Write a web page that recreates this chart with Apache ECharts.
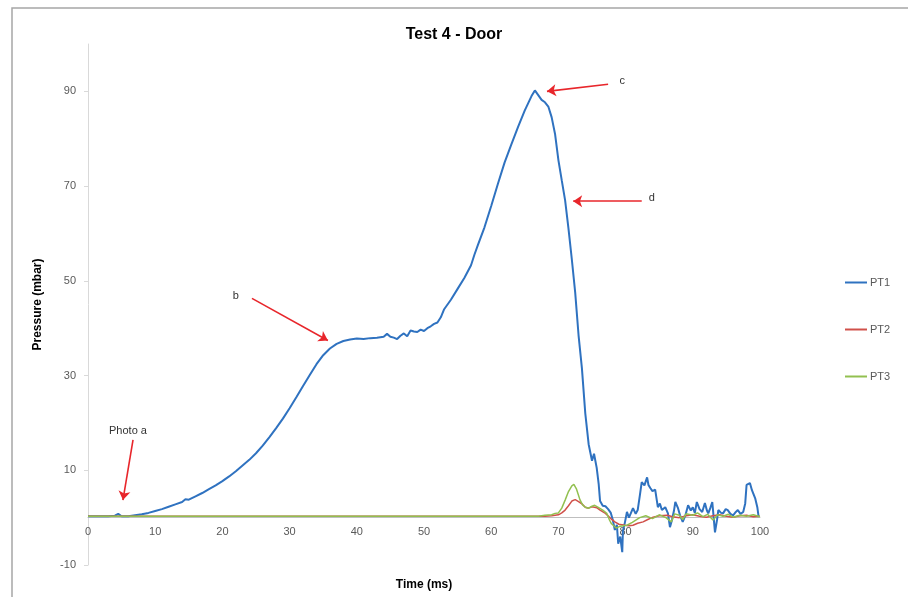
<!DOCTYPE html>
<html>
<head>
<meta charset="utf-8">
<script src="https://cdn.jsdelivr.net/npm/echarts@6/dist/echarts.min.js"></script>
<style>
html,body{margin:0;padding:0;background:#fff;}
#chart{width:908px;height:597px;}
</style>
</head>
<body>
<div id="chart"></div>
<script>
// ---- data (time in ms, pressure in mbar) ----
const seriesNames = ['PT1', 'PT2', 'PT3'];
const xTicks = [0, 10, 20, 30, 40, 50, 60, 70, 80, 90, 100];
const yTicks = [-10, 10, 30, 50, 70, 90];

const pt1 = [
  [0,0.3],[1,0.3],[2,0.3],[3,0.3],[4,0.4],[4.5,0.8],[5,0.3],[5.5,0.3],[6,0.3],[7,0.5],[8,0.7],[9,1.0],
  [10,1.4],[11,1.8],[12,2.3],[13,2.8],[14,3.3],[14.5,3.9],[15,3.8],[16,4.5],[17,5.2],[18,6.0],[19,6.8],
  [20,7.7],[21,8.7],[22,9.8],[23,11.0],[24,12.2],[25,13.6],[26,15.2],[27,17.0],[28,18.9],[29,20.9],
  [30,23.1],[31,25.4],[32,27.8],[33,30.1],[34,32.4],[35,34.3],[36,35.7],[37,36.7],[38,37.3],[39,37.6],
  [40,37.8],[41,37.7],[42,37.9],[43,38.0],[44,38.2],[44.5,38.8],[45,38.2],[45.5,38.0],[46,37.7],[46.5,38.4],
  [47,38.9],[47.5,38.3],[48,39.5],[48.5,39.3],[49,39.2],[49.5,39.7],[50,39.4],[50.5,40.0],[51,40.4],
  [51.5,40.9],[52,41.2],[52.5,42.3],[53,44.0],[54,46.0],[55,48.3],[56,50.6],[57,53.3],[57.5,55.5],[58,57.5],
  [59,61.3],[60,65.8],[61,70.5],[62,75.0],[63,78.8],[64,82.5],[65,86.0],[66,89.0],[66.5,90.2],[67,89.2],
  [67.5,88.2],[68,87.7],[68.5,86.8],[69,84.5],[69.5,81.0],[70,75.5],[70.5,71.2],[71,67.0],[71.5,61.0],
  [72,54.5],[72.5,47.5],[73,38.5],[73.5,31.5],[74,22.0],[74.5,15.5],[75,12.0],[75.3,13.5],[75.7,10.5],
  [76,7.0],[76.2,3.5],[76.6,2.5],[77,2.4],[77.4,1.8],[77.8,1.0],[78.1,-0.5],[78.4,-2.6],[78.7,-1.5],
  [78.9,-5.5],[79.2,-4.0],[79.5,-7.3],[79.6,-2.8],[79.9,-1.0],[80.2,1.2],[80.5,0.0],[80.7,0.2],[81.1,2.0],
  [81.5,0.8],[81.8,1.6],[82.1,4.5],[82.4,7.5],[82.8,6.8],[83.2,8.5],[83.4,6.9],[83.7,6.2],[84,5.6],
  [84.4,5.9],[84.8,2.2],[85.1,3.0],[85.4,1.6],[85.9,2.2],[86.3,0.9],[86.6,-2.0],[86.9,-0.5],[87.2,1.5],
  [87.4,3.3],[87.8,2.0],[88.1,0.5],[88.5,-0.9],[88.9,0.5],[89.3,2.6],[89.7,1.5],[90,2.2],[90.3,1.0],
  [90.6,3.3],[91,1.8],[91.4,1.2],[91.8,3.1],[92.1,1.5],[92.3,0.9],[92.6,2.0],[92.9,3.3],[93.3,-3.1],
  [93.6,-0.5],[93.8,1.6],[94.2,1.0],[94.5,0.9],[94.9,1.8],[95.2,1.6],[95.6,0.8],[96,0.5],[96.4,1.2],
  [96.7,1.6],[97.1,0.8],[97.5,1.2],[97.8,3.0],[98,6.9],[98.5,7.3],[98.8,5.8],[99,6.2],[99.3,4.0],
  [99.6,2.2],[99.8,0.1]
];

const pt2 = [
  [0,0.3],[10,0.3],[20,0.3],[30,0.3],[40,0.3],[50,0.3],[60,0.3],[68,0.3],[69,0.4],[70,0.6],[70.5,1.0],
  [71,1.6],[71.5,2.5],[72,3.5],[72.5,3.8],[73,3.4],[73.5,2.9],[74,2.2],[74.5,2.0],[75,2.3],[75.7,2.1],
  [76.2,1.6],[77,0.9],[77.8,-0.2],[78.4,-0.9],[79,-1.4],[79.9,-1.6],[80.5,-1.7],[81.1,-1.6],[81.8,-1.2],
  [82.6,-0.9],[83.3,-0.4],[84.1,0.1],[85,0.4],[86.2,0.5],[87,0.2],[88,0.0],[89,0.4],[90,0.6],[91,0.3],
  [92,0.1],[93,0.4],[94,0.6],[95,0.3],[96,0.1],[97,0.4],[98,0.5],[99,0.2],[100,0.3]
];

const pt3 = [
  [0,0.3],[10,0.3],[20,0.3],[30,0.3],[40,0.3],[50,0.3],[60,0.3],[67,0.3],[68,0.5],[69,0.6],[69.5,0.9],
  [70,1.0],[70.5,2.0],[71,3.7],[71.5,5.5],[72,6.7],[72.3,7.0],[72.7,6.0],[73.2,3.8],[73.6,2.7],[74,2.2],
  [74.5,2.0],[75,2.4],[75.4,2.6],[76,2.1],[76.6,1.6],[77.2,0.9],[77.6,-0.5],[77.9,-1.3],[78.6,-2.2],
  [79.2,-1.8],[80.2,-1.6],[81,-1.0],[82.1,0.0],[83,0.4],[84,-0.2],[85,0.6],[86,0.0],[86.8,-0.9],[87.3,0.8],
  [88,0.5],[88.5,-0.4],[89,0.8],[90,0.5],[90.7,1.0],[91.5,0.2],[92.2,0.7],[93,-0.5],[93.7,0.6],[94.5,0.3],
  [95.3,0.7],[96,0.1],[97,0.5],[98,0.3],[99,0.6],[100,0.2]
];

// annotation arrows: label, label position, arrow tail, arrow head (data units)
const annotationLabels = ['Photo a', 'b', 'c', 'd'];
const annotationTextAt = [[5.95, 18.3], [22.0, 46.7], [79.5, 92.1], [83.9, 67.4]];
const annotationFrom = [[6.7, 16.4], [24.4, 46.3], [77.4, 91.5], [82.4, 66.8]];
const annotationTo = [[5.2, 3.7], [35.7, 37.4], [68.3, 90.0], [72.2, 66.8]];

// ---- chart ----
const colors = ['#2f72c0', '#d0504a', '#92c050'];
const font = "'Liberation Sans', Arial, sans-serif";
const W = 908, H = 597;
const gridTop = 44, gridBottom = 32;
const yMin = -10, yMax = 100;
// move the x axis (line + labels) up so it crosses the y axis at 0
const plotH = H - gridTop - gridBottom;
const xAxisOffset = -((0 - yMin) / (yMax - yMin)) * plotH;

const chart = echarts.init(document.getElementById('chart'), null, {renderer: 'canvas'});

const markLineData = annotationFrom.map((f, i) => [{coord: f}, {coord: annotationTo[i]}]);
const markPointData = annotationLabels.map((t, i) => ({name: t, coord: annotationTextAt[i]}));

const option = {
  animation: false,
  backgroundColor: '#ffffff',
  color: colors,
  title: {
    text: 'Test 4 - Door',
    left: 'center',
    top: 22,
    textStyle: {fontFamily: font, fontSize: 16, fontWeight: 'bold', color: '#000'}
  },
  legend: {
    data: seriesNames,
    orient: 'vertical',
    left: 845,
    top: 277,
    padding: 0,
    itemGap: 36,
    itemWidth: 22,
    itemHeight: 2,
    icon: 'rect',
    textStyle: {fontFamily: font, fontSize: 11, color: '#595959', padding: [0, 0, 0, -2]}
  },
  grid: {left: 88, right: 148, top: gridTop, bottom: gridBottom, containLabel: false, outerBoundsMode: 'none'},
  xAxis: {
    type: 'value',
    min: 0, max: 100, interval: 10,
    position: 'bottom',
    offset: xAxisOffset,
    name: 'Time (ms)',
    nameLocation: 'middle',
    nameGap: 61,
    nameTextStyle: {fontFamily: font, fontSize: 12, fontWeight: 'bold', color: '#000'},
    axisLine: {show: true, onZero: false, lineStyle: {color: '#bfbfbf', width: 1}},
    axisTick: {show: false},
    splitLine: {show: false},
    axisLabel: {fontFamily: font, fontSize: 11, color: '#595959', margin: 9}
  },
  yAxis: {
    type: 'value',
    min: yMin, max: yMax, interval: 20,
    name: 'Pressure (mbar)',
    nameLocation: 'middle',
    nameGap: 44,
    nameRotate: 90,
    nameTextStyle: {fontFamily: font, fontSize: 12, fontWeight: 'bold', color: '#000'},
    axisLine: {show: true, lineStyle: {color: '#d9d9d9', width: 1}},
    axisTick: {show: true, length: 4, customValues: yTicks, lineStyle: {color: '#d9d9d9'}},
    splitLine: {show: false},
    axisLabel: {fontFamily: font, fontSize: 11, color: '#595959', margin: 12, customValues: yTicks}
  },
  graphic: [{
    type: 'rect',
    shape: {x: 12, y: 8, width: 1200, height: 1200},
    style: {fill: 'none', stroke: '#a6a6a6', lineWidth: 1.5},
    silent: true,
    z: -1
  }],
  series: [
    {
      name: 'PT1', type: 'line', data: pt1, symbol: 'none', smooth: false,
      lineStyle: {width: 2, color: colors[0]}, z: 2,
      markLine: {
        silent: true,
        symbol: ['none', 'arrow'],
        symbolSize: 9,
        lineStyle: {color: '#e8262b', width: 1.6, type: 'solid'},
        label: {show: false},
        data: markLineData
      },
      markPoint: {
        silent: true,
        symbol: 'circle',
        symbolSize: 0,
        label: {show: true, position: 'inside', formatter: '{b}', fontFamily: font, fontSize: 11, color: '#333'},
        data: markPointData
      }
    },
    {name: 'PT2', type: 'line', data: pt2, symbol: 'none', lineStyle: {width: 1.5, color: colors[1]}, z: 3},
    {name: 'PT3', type: 'line', data: pt3, symbol: 'none', lineStyle: {width: 1.5, color: colors[2]}, z: 4}
  ]
};
chart.setOption(option);
</script>
</body>
</html>
